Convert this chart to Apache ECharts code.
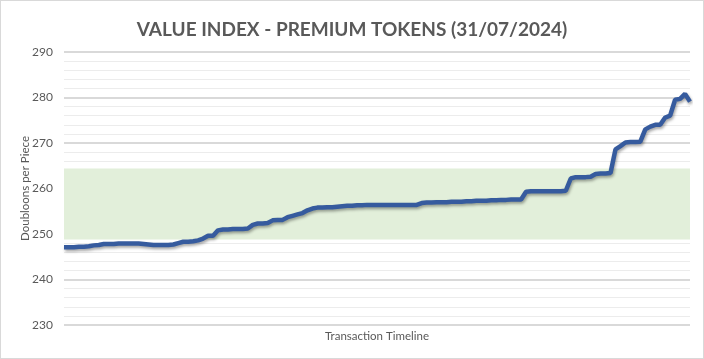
<!DOCTYPE html>
<html>
<head>
<meta charset="utf-8">
<script src="https://cdn.jsdelivr.net/npm/echarts@6/dist/echarts.min.js"></script>
<style>
html,body{margin:0;padding:0;background:#fff;}
#c{width:704px;height:359px;border:1px solid #d9d9d9;box-sizing:border-box;}
</style>
</head>
<body>
<div id="c"></div>
<script>
const titleText = "VALUE INDEX - PREMIUM TOKENS (31/07/2024)";
const yAxisName = "Doubloons per Piece";
const xAxisName = "Transaction Timeline";
const bandRange = [248.8, 264.4];
const values = [
 247.1,247.1,247.1,247.2,247.2,247.3,247.5,247.6,247.8,247.8,
 247.8,247.9,247.9,247.9,247.9,247.9,247.8,247.7,247.6,247.6,
 247.6,247.6,247.7,248.0,248.3,248.3,248.4,248.6,249.0,249.6,
 249.6,250.8,251.0,251.0,251.1,251.1,251.1,251.2,252.0,252.3,
 252.3,252.4,253.0,253.1,253.1,253.7,254.0,254.3,254.6,255.2,
 255.6,255.8,255.8,255.9,255.9,256.0,256.1,256.2,256.2,256.3,
 256.3,256.4,256.4,256.4,256.4,256.4,256.4,256.4,256.4,256.4,
 256.4,256.4,256.8,256.9,256.9,257.0,257.0,257.0,257.1,257.1,
 257.1,257.2,257.2,257.3,257.3,257.3,257.4,257.4,257.5,257.5,
 257.6,257.6,257.6,259.3,259.4,259.4,259.4,259.4,259.4,259.4,
 259.4,259.5,262.2,262.5,262.5,262.5,262.6,263.2,263.3,263.3,
 263.4,268.6,269.3,270.1,270.2,270.2,270.3,273.0,273.6,274.0,
 274.0,275.6,276.0,279.5,279.7,280.8,279.1
];
const categories = values.map((v, i) => String(i + 1));

const chart = echarts.init(document.getElementById('c'));
chart.setOption({
  animation: false,
  backgroundColor: '#ffffff',
  title: {
    text: titleText,
    left: 'center',
    top: 14,
    textStyle: {fontFamily: 'Lato', fontWeight: 'bold', fontSize: 19, color: '#595959'}
  },
  grid: {left: 63, right: 13, top: 51, bottom: 33},
  xAxis: {
    type: 'category',
    data: categories,
    boundaryGap: false,
    axisLine: {show: false},
    axisTick: {show: false},
    axisLabel: {show: false},
    splitLine: {show: false},
    name: xAxisName,
    nameLocation: 'middle',
    nameGap: 5,
    nameMoveOverlap: false,
    nameTextStyle: {fontFamily: 'Lato', fontSize: 11.5, color: '#595959'}
  },
  yAxis: {
    type: 'value',
    min: 230,
    max: 290,
    interval: 10,
    axisLine: {show: false},
    axisTick: {show: false},
    axisLabel: {fontFamily: 'Lato', fontSize: 12, color: '#595959', margin: 11},
    splitLine: {lineStyle: {color: '#d9d9d9', width: 2}},
    minorTick: {show: false, splitNumber: 5},
    minorSplitLine: {show: true, lineStyle: {color: '#ececec', width: 1}},
    name: yAxisName,
    nameLocation: 'middle',
    nameGap: 33,
    nameMoveOverlap: false,
    nameTextStyle: {fontFamily: 'Lato', fontSize: 11.5, color: '#595959'}
  },
  series: [{
    type: 'line',
    data: values,
    symbol: 'none',
    lineStyle: {
      color: '#365b9e', width: 4.5,
      shadowColor: 'rgba(0,0,0,0.35)', shadowBlur: 3, shadowOffsetX: 1, shadowOffsetY: 2
    },
    z: 5,
    markArea: {
      silent: true,
      itemStyle: {color: '#e2efda'},
      data: [[{yAxis: bandRange[0]}, {yAxis: bandRange[1]}]]
    }
  }]
});
</script>
</body>
</html>
